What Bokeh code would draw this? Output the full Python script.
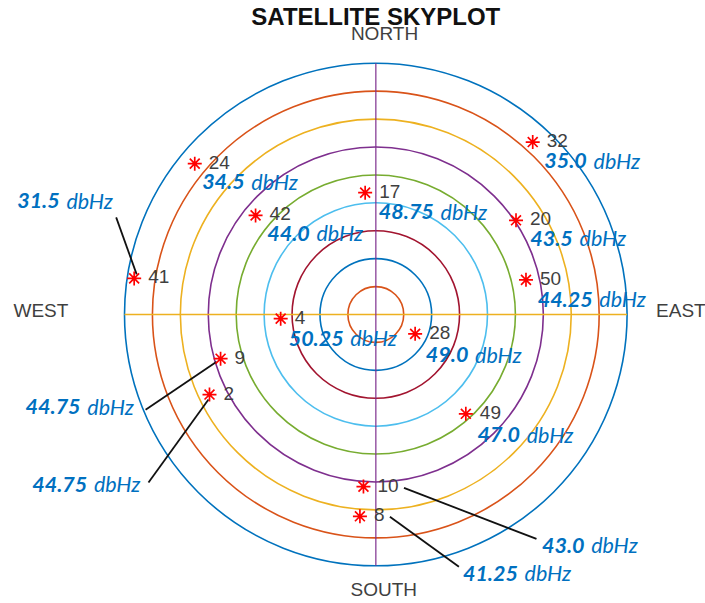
import numpy as np
from bokeh.plotting import figure
from bokeh.models import ColumnDataSource, Range1d
from bokeh.embed import file_html
from bokeh.resources import INLINE
from bokeh.core.properties import value

# ---------------- data ----------------
title_text = "SATELLITE SKYPLOT"
prn = ["32", "24", "17", "42", "41", "20", "50", "4", "28", "49", "9", "2", "10", "8"]
azimuth_deg = [42.3, 309.8, 355.0, 309.5, 278.5, 56.1, 77.0, 267.5, 116.2, 137.8, 254.1, 244.3, 184.1, 184.5]
elevation_deg = [6.5, 5.6, 46.2, 34.2, 2.5, 29.5, 34.8, 55.9, 74.3, 42.0, 32.2, 23.9, 28.2, 17.5]
cn0_text = ["35.0", "34.5", "48.75", "44.0", "31.5", "43.5", "44.25", "50.25", "49.0", "47.0",
            "44.75", "44.75", "43.0", "41.25"]
ring_elevation_deg = [0, 10, 20, 30, 40, 50, 60, 70, 80]
compass_labels = ["NORTH", "EAST", "SOUTH", "WEST"]
compass_azimuth = [0, 90, 180, 270]

# ---------------- layout / style ----------------
W, H = 705, 603
R_PX = 251.3
S = R_PX / 90.0            # px per degree of zenith distance
CX, CY = 375.3, 314.0      # centre of the plot in figure px
TDY = -8.0                 # text baseline correction (px)

ring_colors = ["#0072BD", "#D95319", "#EDB120", "#7E2F8E", "#77AC30",
               "#4DBEEE", "#A2142F", "#0072BD", "#D95319"]

# C/N0 label: (dx, dy) px from the marker to the label's left edge / baseline
cn0_offset_px = [(11.6, 26.5), (7.4, 26.0), (13.7, 27.0), (11.7, 26.0), (-117.0, -69.5),
                 (14.3, 26.0), (11.7, 27.5), (8.0, 27.5), (10.7, 29.0), (11.7, 29.0),
                 (-195.0, 56.0), (-177.3, 97.5), (178.5, 66.5), (103.0, 65.0)]
# leader lines: index -> ((dx0, dy0), (dx1, dy1)) px from marker
leaders = {
    4: ((2.5, -4.0), (-18.0, -61.0)),
    10: ((-4.0, 3.0), (-75.0, 51.0)),
    11: ((-1.0, 5.0), (-61.0, 88.0)),
    12: ((40.5, 1.3), (173.0, 52.3)),
    13: ((30.0, 0.5), (99.0, 50.5)),
}
# compass labels: (dx, dy) px from the ring point, and alignment
compass_offset_px = [(8.7, -21.5, "center"), (29.0, 4.0, "left"), (8.0, 31.5, "center"), (-111.0, 4.0, "left")]

FS_CN0 = 21.5
CHAR_W = {"0": 0.58, "1": 0.58, "2": 0.58, "3": 0.58, "4": 0.58, "5": 0.58, "6": 0.58,
          "7": 0.58, "8": 0.58, "9": 0.58, ".": 0.27}

p = figure(width=W, height=H, output_backend="svg", toolbar_location=None,
           x_range=Range1d(-CX / S, (W - CX) / S), y_range=Range1d(-(H - CY) / S, CY / S),
           min_border=0, x_axis_type=None, y_axis_type=None,
           outline_line_color=None, background_fill_color="white", border_fill_color="white")
p.xgrid.visible = False
p.ygrid.visible = False

# rings
ring_r = [90 - e for e in ring_elevation_deg]
p.circle(x=[0] * len(ring_r), y=[0] * len(ring_r), radius=ring_r, fill_color=None,
         line_color=ring_colors, line_width=1.6)
# cross lines
p.segment(x0=[-90], y0=[0], x1=[90], y1=[0], line_color="#EDB120", line_width=1.6)
p.segment(x0=[0], y0=[-90], x1=[0], y1=[90], line_color="#7E2F8E", line_alpha=0.75, line_width=1.6)

# satellites
az = np.radians(np.array(azimuth_deg))
r = 90 - np.array(elevation_deg)
sx = r * np.sin(az)
sy = r * np.cos(az)
src = ColumnDataSource(dict(x=sx, y=sy, prn=prn))

# leader lines
x0, y0, x1, y1 = [], [], [], []
for i, ((a, b), (c, d)) in leaders.items():
    x0.append(sx[i] + a / S); y0.append(sy[i] - b / S)
    x1.append(sx[i] + c / S); y1.append(sy[i] - d / S)
p.segment(x0=x0, y0=y0, x1=x1, y1=y1, line_color="#111111", line_width=1.8)

p.scatter(x="x", y="y", source=src, marker="asterisk", size=14, line_color="#FF0000", line_width=1.7)
p.text(x="x", y="y", text="prn", source=src, x_offset=14, y_offset=6.5 + TDY,
       text_font=value("Liberation Sans"), text_font_size="19px", text_color="#3f3f3f",
       text_align="left", text_baseline="alphabetic")

# C/N0 labels (bold italic value + italic unit)
nx, ny, ntxt, ux = [], [], [], []
for i, t in enumerate(cn0_text):
    dx, dy = cn0_offset_px[i]
    nx.append(sx[i] + dx / S)
    ny.append(sy[i] - (dy + TDY) / S)
    ntxt.append(t)
    w = sum(CHAR_W[c] for c in t) * FS_CN0
    ux.append(sx[i] + (dx + w + 6) / S)
p.text(x=nx, y=ny, text=ntxt, text_font=value("Lato"), text_font_style="bold italic",
       text_font_size=f"{FS_CN0}px", text_color="#0070C0", text_align="left", text_baseline="alphabetic")
p.text(x=ux, y=ny, text=["dbHz"] * len(ux), text_font=value("Lato"), text_font_style="italic",
       text_font_size=f"{FS_CN0}px", text_color="#0070C0", text_align="left", text_baseline="alphabetic")

# compass labels
for lab, a, (dx, dy, al) in zip(compass_labels, compass_azimuth, compass_offset_px):
    ar = np.radians(a)
    p.text(x=[90 * np.sin(ar) + dx / S], y=[90 * np.cos(ar) - (dy + TDY) / S], text=[lab],
           text_font=value("Liberation Sans"), text_font_size="19px", text_color="#3f3f3f",
           text_align=al, text_baseline="alphabetic")

# title
p.text(x=[0], y=[90 + (38.5 - TDY) / S], text=[title_text], text_font=value("Liberation Sans"),
       text_font_style="bold", text_font_size="24px", text_color="#111111",
       text_align="center", text_baseline="alphabetic")

open("out.html", "w").write(file_html(p, INLINE))
